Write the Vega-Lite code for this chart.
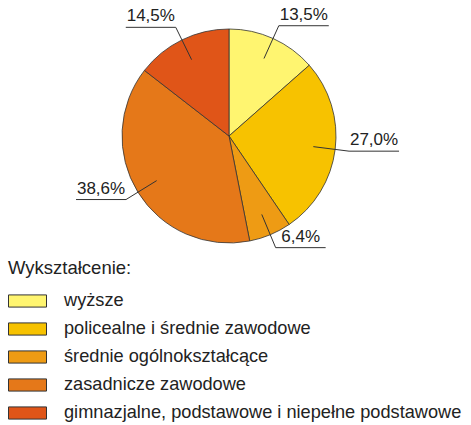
{
  "$schema": "https://vega.github.io/schema/vega-lite/v6.json",
  "width": 458,
  "height": 272,
  "autosize": "none",
  "padding": {"left": 0, "top": 0, "right": 13, "bottom": 153},
  "background": "white",
  "data": {
    "values": [
      {"k": 1, "label": "wyższe", "value": 13.5, "pct": "13,5%"},
      {"k": 2, "label": "policealne i średnie zawodowe", "value": 27.0, "pct": "27,0%"},
      {"k": 3, "label": "średnie ogólnokształcące", "value": 6.4, "pct": "6,4%"},
      {"k": 4, "label": "zasadnicze zawodowe", "value": 38.6, "pct": "38,6%"},
      {"k": 5, "label": "gimnazjalne, podstawowe i niepełne podstawowe", "value": 14.5, "pct": "14,5%"}
    ]
  },
  "transform": [
    {"window": [{"op": "sum", "field": "value", "as": "cum"}], "sort": [{"field": "k"}]},
    {"calculate": "(datum.cum - datum.value / 2) / 100 * 2 * PI", "as": "a"},
    {"calculate": "sin(datum.a) > 0 ? 1 : -1", "as": "side"},
    {"calculate": "85 * sin(datum.a)", "as": "x1"},
    {"calculate": "85 * cos(datum.a)", "as": "y1"},
    {"calculate": "121 * sin(datum.a)", "as": "ex"},
    {"calculate": "121 * cos(datum.a)", "as": "ey"},
    {"calculate": "datum.ex + datum.side * 50", "as": "hx"},
    {"calculate": "datum.ex + datum.side * 25", "as": "tx"}
  ],
  "layer": [
    {
      "mark": {"type": "arc", "outerRadius": 107, "stroke": "#333333", "strokeWidth": 0.8},
      "encoding": {
        "theta": {"field": "value", "type": "quantitative", "stack": true},
        "order": {"field": "k", "type": "quantitative"},
        "color": {
          "field": "label",
          "type": "nominal",
          "scale": {
            "domain": ["wyższe", "policealne i średnie zawodowe", "średnie ogólnokształcące", "zasadnicze zawodowe", "gimnazjalne, podstawowe i niepełne podstawowe"],
            "range": ["#FFF570", "#F7C200", "#EE9B14", "#E57819", "#E05518"]
          },
          "legend": {
            "title": "Wykształcenie:",
            "orient": "none",
            "legendX": 8,
            "legendY": 259,
            "titleFont": "Liberation Sans",
            "titleFontSize": 18.5,
            "titleFontWeight": "normal",
            "titleColor": "#222222",
            "titlePadding": 4,
            "labelFont": "Liberation Sans",
            "labelFontSize": 18.2,
            "labelColor": "#222222",
            "labelOffset": 17,
            "labelLimit": 500,
            "symbolType": "M-1,-0.32H1V0.32H-1Z",
            "symbolSize": 1444,
            "symbolStrokeColor": "#333333",
            "symbolStrokeWidth": 1,
            "symbolOpacity": 1,
            "rowPadding": -11.4
          }
        }
      }
    },
    {
      "mark": {"type": "rule", "color": "#333333", "strokeWidth": 1},
      "encoding": {
        "x": {"field": "x1", "type": "quantitative", "scale": {"domain": [-229, 229], "nice": false, "zero": false}, "axis": null},
        "y": {"field": "y1", "type": "quantitative", "scale": {"domain": [-136, 136], "nice": false, "zero": false}, "axis": null},
        "x2": {"field": "ex"},
        "y2": {"field": "ey"}
      }
    },
    {
      "mark": {"type": "rule", "color": "#333333", "strokeWidth": 1},
      "encoding": {
        "x": {"field": "ex", "type": "quantitative"},
        "y": {"field": "ey", "type": "quantitative"},
        "x2": {"field": "hx"}
      }
    },
    {
      "mark": {"type": "text", "font": "Liberation Sans", "fontSize": 17, "color": "#222222", "baseline": "bottom", "dy": -2, "align": "center"},
      "encoding": {
        "x": {"field": "tx", "type": "quantitative"},
        "y": {"field": "ey", "type": "quantitative"},
        "text": {"field": "pct"}
      }
    }
  ],
  "config": {"view": {"stroke": null}}
}
